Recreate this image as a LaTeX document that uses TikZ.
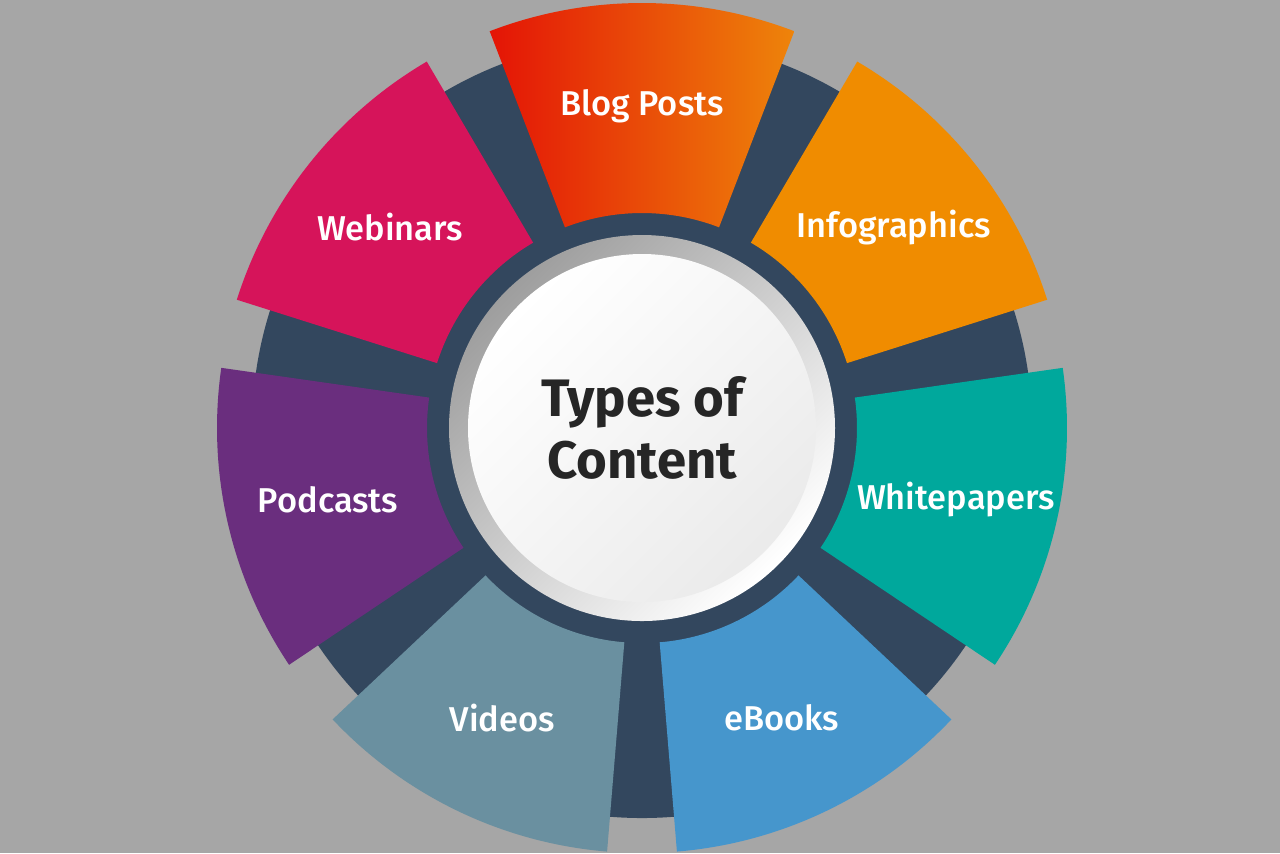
\documentclass[tikz,border=0pt]{standalone}
\usepackage{fontspec}
\setmainfont{Fira Sans}
\newfontfamily\labelfont{Fira Sans Medium}
\usetikzlibrary{calc}

\definecolor{bggray}{RGB}{166,166,166}
\definecolor{hubnavy}{RGB}{51,71,94}
\definecolor{blogred}{RGB}{228,20,6}
\definecolor{blogorange}{RGB}{238,132,10}
\definecolor{infoorange}{RGB}{240,140,0}
\definecolor{paperteal}{RGB}{0,168,156}
\definecolor{ebookblue}{RGB}{70,150,204}
\definecolor{videogray}{RGB}{106,144,160}
\definecolor{podpurple}{RGB}{106,46,126}
\definecolor{webcrimson}{RGB}{214,20,90}
\definecolor{titlegray}{RGB}{38,38,38}

\begin{document}
\begin{tikzpicture}[x=1cm,y=1cm,
seglabel/.style={text=white,font=\labelfont\fontsize{9.8}{12}\selectfont},
hubtext/.style={text=titlegray,align=center,font=\bfseries\fontsize{15}{17.5}\selectfont}]

% background and page size
\fill[bggray] (-6.42,-4.25) rectangle (6.38,4.28);
\useasboundingbox (-6.42,-4.25) rectangle (6.38,4.28);

% navy disk behind the segments
\fill[hubnavy] (0,0) circle (3.90);

% the seven segments
\foreach \k/\lc/\rc/\nm/\txt in {
  0/blogred/blogorange/blog/Blog Posts,
  1/infoorange/infoorange/info/Infographics,
  2/paperteal/paperteal/paper/Whitepapers,
  3/ebookblue/ebookblue/ebook/eBooks,
  4/videogray/videogray/video/Videos,
  5/podpurple/podpurple/podcast/Podcasts,
  6/webcrimson/webcrimson/webinar/Webinars}
{
  \pgfmathsetmacro\a{90-\k*360/7}
  \shade[left color=\lc,right color=\rc]
    ({\a-21}:2.15) arc[start angle=\a-21,end angle=\a+21,radius=2.15]
    -- ({\a+21}:4.25) arc[start angle=\a+21,end angle=\a-21,radius=4.25]
    -- cycle;
  \node[seglabel] (\nm) at (\a:3.22) {\txt};
}

% hub in the middle
\shade[top color=black!38,bottom color=white,shading angle=45] (0,0) circle (1.93);
\shade[top color=white,bottom color=black!8,shading angle=45] (0,0) circle (1.74);
\node[hubtext] (hub) at (0,0) {Types of\\Content};

\end{tikzpicture}
\end{document}
